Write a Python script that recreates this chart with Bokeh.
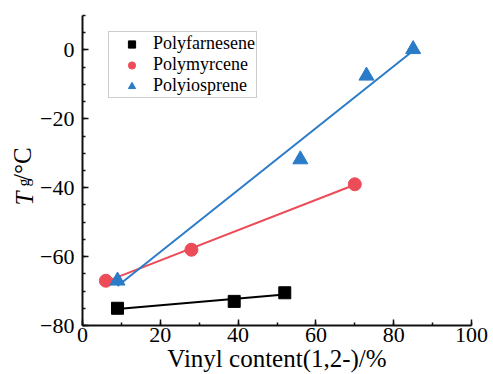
import numpy as np
from bokeh.plotting import figure
from bokeh.models import (Range1d, SingleIntervalTicker, CustomJSTickFormatter,
                          Legend, LinearAxis, FixedTicker)
from bokeh.embed import file_html
from bokeh.resources import INLINE

# ---- data ----
farnesene_x = [9, 39, 52]
farnesene_y = [-75, -73, -70.5]
myrcene_x = [6, 28, 70]
myrcene_y = [-67, -58, -39]
isoprene_x = [9, 56, 73, 85]
isoprene_y = [-67, -31.8, -7.5, 0.2]

series_names = ["Polyfarnesene", "Polymyrcene", "Polyiosprene"]
x_title = "Vinyl content(1,2-)/%"
y_title_parts = ["T", "g", "/°C"]

BLACK = "#000000"
RED = "#EC4B58"
BLUE = "#2A7BC8"
FONT = "'Liberation Serif', 'Times New Roman', serif"
NB = "\u00a0"

p = figure(width=493, height=374, output_backend="svg", toolbar_location=None,
           x_range=Range1d(0, 100), y_range=Range1d(-80, 10),
           min_border_left=82, min_border_right=22, min_border_top=15,
           min_border_bottom=49)
p.outline_line_color = None
p.xgrid.visible = False
p.ygrid.visible = False
p.background_fill_color = "white"
p.border_fill_color = "white"

p.xaxis.ticker = SingleIntervalTicker(interval=20, num_minor_ticks=2)
p.yaxis.ticker = SingleIntervalTicker(interval=20, num_minor_ticks=4)
p.yaxis.formatter = CustomJSTickFormatter(
    code='return tick < 0 ? "\\u2212" + (-tick) : String(tick);')
for ax in (p.xaxis[0], p.yaxis[0]):
    ax.axis_line_width = 2
    ax.axis_line_color = "#111111"
    ax.major_tick_in = 6
    ax.major_tick_out = 0
    ax.minor_tick_in = 3
    ax.minor_tick_out = 0
    ax.major_tick_line_width = 1.5
    ax.minor_tick_line_width = 1.5
    ax.major_tick_line_color = "#111111"
    ax.minor_tick_line_color = "#111111"
    ax.major_label_text_font = FONT
    ax.major_label_text_font_style = "normal"
    ax.major_label_text_font_size = "22px"
    ax.major_label_text_color = "black"
p.yaxis.major_label_standoff = 8
p.xaxis.major_label_standoff = 2

# x axis title
p.xaxis.axis_label = x_title
p.xaxis.axis_label_text_font = FONT
p.xaxis.axis_label_text_font_size = "25px"
p.xaxis.axis_label_text_font_style = "normal"
p.xaxis.axis_label_text_color = "black"
p.xaxis.axis_label_standoff = 0


def title_axis(text, size, style, standoff):
    ax = LinearAxis(ticker=FixedTicker(ticks=[]), axis_label=text,
                    axis_label_text_font=FONT, axis_label_text_font_size=size,
                    axis_label_text_font_style=style, axis_label_text_color="black",
                    axis_label_standoff=standoff,
                    axis_line_color=None, major_tick_line_color=None,
                    minor_tick_line_color=None, major_tick_in=0, major_tick_out=0,
                    minor_tick_in=0, minor_tick_out=0, major_label_standoff=0)
    p.add_layout(ax, "left")


# y axis title: T (italic) with subscript g, then /°C — stacked title-only axes,
# shifted along the axis with non-breaking spaces
title_axis(y_title_parts[1] + NB * 6, "16px", "normal", 6)
title_axis(y_title_parts[0] + NB * 9, "25px", "italic", -26)
title_axis(NB * 2 + y_title_parts[2], "25px", "normal", -28)


def fit_line(xs, ys):
    k, b = np.polyfit(xs, ys, 1)
    x0, x1 = min(xs), max(xs)
    return [x0, x1], [k * x0 + b, k * x1 + b]


# fitted lines
for xs, ys, col in ((farnesene_x, farnesene_y, BLACK),
                    (myrcene_x, myrcene_y, RED),
                    (isoprene_x, isoprene_y, BLUE)):
    lx, ly = fit_line(xs, ys)
    p.line(lx, ly, line_color=col, line_width=2)

r1 = p.scatter(farnesene_x, farnesene_y, marker="square", size=12,
               fill_color=BLACK, line_color=BLACK)
r2 = p.scatter(myrcene_x, myrcene_y, marker="circle", size=13,
               fill_color=RED, line_color=RED)
r3 = p.scatter(isoprene_x, isoprene_y, marker="triangle", size=15,
               fill_color=BLUE, line_color=BLUE)

legend = Legend(items=[(series_names[0], [r1]), (series_names[1], [r2]),
                       (series_names[2], [r3])],
                location=(26, 227))
legend.label_text_font = FONT
legend.label_text_font_size = "18px"
legend.label_text_color = "black"
legend.glyph_width = 43
legend.glyph_height = 18
legend.label_height = 18
legend.label_standoff = 0
legend.spacing = 0
legend.padding = 1
legend.margin = 0
legend.border_line_color = "#9a9a9a"
legend.border_line_width = 1
legend.background_fill_color = "white"
legend.background_fill_alpha = 1
p.add_layout(legend, "center")

open("out.html", "w").write(file_html(p, INLINE))
